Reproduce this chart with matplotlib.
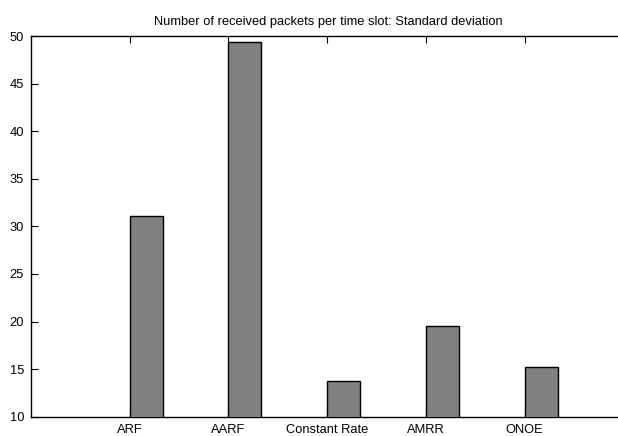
import matplotlib
matplotlib.use("Agg")
import matplotlib.pyplot as plt

categories = ["ARF", "AARF", "Constant Rate", "AMRR", "ONOE"]
std_dev = [31.1, 49.4, 13.8, 19.5, 15.2]
yticks = [10, 15, 20, 25, 30, 35, 40, 45, 50]

plt.rcParams['font.family'] = ['Liberation Sans', 'DejaVu Sans']

W, H = 618, 436
fig = plt.figure(figsize=(W / 100, H / 100), dpi=100)
left, right, bottom, top = 31, 625, 416.7, 36
ax = fig.add_axes([left / W, (H - bottom) / H, (right - left) / W, (bottom - top) / H])

pos = list(range(1, len(categories) + 1))
ax.bar(pos, std_dev, width=0.335, align='edge', bottom=0,
       color='#808080', edgecolor='black', linewidth=1.0, zorder=3)

ax.set_xlim(0, (right - left) / 98.7)
ax.set_ylim(10, 50)
ax.set_yticks(yticks)
ax.set_xticks(pos)
ax.set_xticklabels(categories)
ax.tick_params(axis='both', direction='in', length=5, width=0.8, labelsize=9.3,
               top=True, bottom=True, right=False, pad=5)
ax.tick_params(axis='y', pad=5)
for s in ax.spines.values():
    s.set_linewidth(1.0)
ax.spines['right'].set_visible(False)

ax.set_title("Number of received packets per time slot: Standard deviation",
             fontsize=9.3, pad=8)

fig.savefig("out.png", dpi=100)
